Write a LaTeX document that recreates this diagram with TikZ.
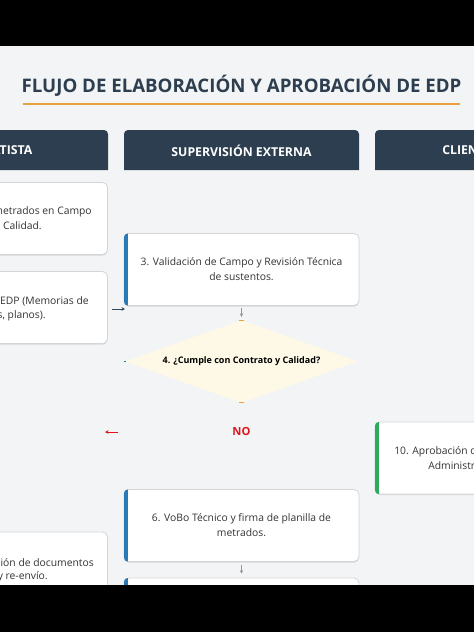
\documentclass[tikz,border=0pt]{standalone}
\usepackage{fontspec}
\setmainfont{Open Sans}
\usetikzlibrary{shadows,arrows.meta,shapes.geometric}
\definecolor{navy}{HTML}{2C3E50}
\definecolor{bgc}{HTML}{F3F4F5}
\definecolor{orangeline}{HTML}{E9A23B}
\definecolor{barblue}{HTML}{2A7AB8}
\definecolor{bargreen}{HTML}{2EAA5C}
\definecolor{bordergray}{HTML}{D3D6D9}
\definecolor{txt}{HTML}{333333}
\definecolor{diafill}{HTML}{FEF8E6}
\definecolor{nored}{HTML}{E0141E}
\definecolor{arrgray}{HTML}{8E979C}
\definecolor{arrdark}{HTML}{34495E}
\begin{document}
\begin{tikzpicture}[x=0.75pt,y=-0.75pt,
  procbox/.style={draw=bordergray, line width=0.6pt, fill=white, rounded corners=3.75pt,
    minimum width=176.25pt, minimum height=54pt, inner sep=0pt,
    drop shadow={shadow xshift=0pt, shadow yshift=-0.9pt, opacity=0.12, fill=black}},
  bodytext/.style={font=\fontsize{7.75}{11.2}\selectfont, text=txt, align=center, inner sep=0pt},
  headtext/.style={font=\bfseries\fontsize{9.2}{11}\selectfont, text=white, inner sep=0pt},
  lanehead/.style={fill=navy},
  arr/.style={-{Stealth[length=2.6pt,width=2.6pt]}, line width=0.5pt},
]
\useasboundingbox (0,0) rectangle (474,632);
\clip (0,0) rectangle (474,632);
% frame
\fill[bgc] (0,46) rectangle (474,585);
% title
\node[font=\bfseries\fontsize{14}{16}\selectfont, text=navy, inner sep=0pt] (title) at (241.5,85.5) {FLUJO DE ELABORACIÓN Y APROBACIÓN DE EDP};
\draw[orangeline, line width=1.5pt] (23,104) -- (460,104);
% lane headers
\fill[lanehead] (-127,170) [rounded corners=3pt]-- (-127,130) -- (108,130) [sharp corners]-- (108,170) -- cycle;
\fill[lanehead] (124,170) [rounded corners=3pt]-- (124,130) -- (359,130) [sharp corners]-- (359,170) -- cycle;
\fill[lanehead] (375,170) [rounded corners=3pt]-- (375,130) -- (610,130) [sharp corners]-- (610,170) -- cycle;
\node[headtext] (h1) at (-9,150.5) {CONTRATISTA};
\node[headtext] (h2) at (241.5,150.5) {SUPERVISIÓN EXTERNA};
\node[headtext, anchor=west] (h3) at (442,150.5) {CLIENTE};
% left column boxes
\node[procbox] (l1) at (-10,218.5) {};
\node[procbox] (l2) at (-10,307.5) {};
\node[procbox, minimum height=66pt] (l3) at (-10,576) {};
\node[bodytext, anchor=east] (l1a) at (92,212) {metrados en Campo};
\node[bodytext, anchor=east] (l1b) at (42,226) {Calidad.};
\node[bodytext, anchor=east] (l2a) at (89,301) {EDP (Memorias de};
\node[bodytext, anchor=east] (l2b) at (46,316) {s, planos).};
\node[bodytext, anchor=east] (l3a) at (94,563) {ción de documentos};
\node[bodytext, anchor=east] (l3b) at (48,577) {y re-envío.};
% middle column
\node[procbox] (b3) at (241.5,269.5) {};
\node[bodytext] (t3) at (b3.center) {3. Validación de Campo y Revisión Técnica\\de sustentos.};
\node[procbox] (b6) at (241.5,525.5) {};
\node[bodytext] (t6) at (b6.center) {6. VoBo Técnico y firma de planilla de\\metrados.};
\node[procbox] (b7) at (241.5,614) {};
% right column
\node[procbox] (b10) at (492.5,458) {};
\node[bodytext, anchor=west] (t10a) at (394,452) {10. Aprobación de};
\node[bodytext, anchor=west] (t10b) at (428,466) {Administración};
% coloured left bars
\foreach \n/\c in {b3/barblue, b6/barblue, b7/barblue, b10/bargreen}{
  \begin{scope}
    \clip[rounded corners=3.75pt] (\n.south west) rectangle (\n.north east);
    \fill[\c] (\n.south west) rectangle ([xshift=3pt]\n.north west);
  \end{scope}
}
% decision
\node[diamond, fill=diafill, minimum width=174.75pt, minimum height=62.25pt, aspect=2.8, inner sep=0pt] (d4) at (241.5,361.5) {};
\node[font=\bfseries\fontsize{6.75}{8}\selectfont, text=black, inner sep=0pt] (t4) at (d4.center) {4. ¿Cumple con Contrato y Calidad?};
\draw[orangeline, line width=0.8pt] ([xshift=-2pt,yshift=-0.6pt]d4.north) -- ([xshift=2pt,yshift=-0.6pt]d4.north);
\draw[orangeline, line width=0.8pt] ([xshift=-2pt,yshift=0.6pt]d4.south) -- ([xshift=2pt,yshift=0.6pt]d4.south);
\draw[barblue, line width=0.8pt] ([xshift=-0.6pt]d4.west) -- ([xshift=1.2pt]d4.west);
\node[font=\bfseries\fontsize{8.4}{10}\selectfont, text=nored, inner sep=0pt] (no) at (241.5,431) {NO};
% connectors
\coordinate (c1s) at (112,309);
\coordinate (c1e) at (125,309);
\draw[arr, arrdark] (c1s) -- (c1e);
\draw[arr, arrgray] ([yshift=-1.2pt]b3.south) -- ([yshift=2.2pt]d4.north);
\coordinate (c2s) at (118,432);
\coordinate (c2e) at (105,432);
\draw[arr, nored] (c2s) -- (c2e);
\draw[arr, arrgray] ([yshift=-2.5pt]b6.south) -- ([yshift=3pt]b7.north);
% black bands
\fill[black] (0,0) rectangle (474,46);
\fill[black] (0,585) rectangle (474,632);
\end{tikzpicture}
\end{document}
